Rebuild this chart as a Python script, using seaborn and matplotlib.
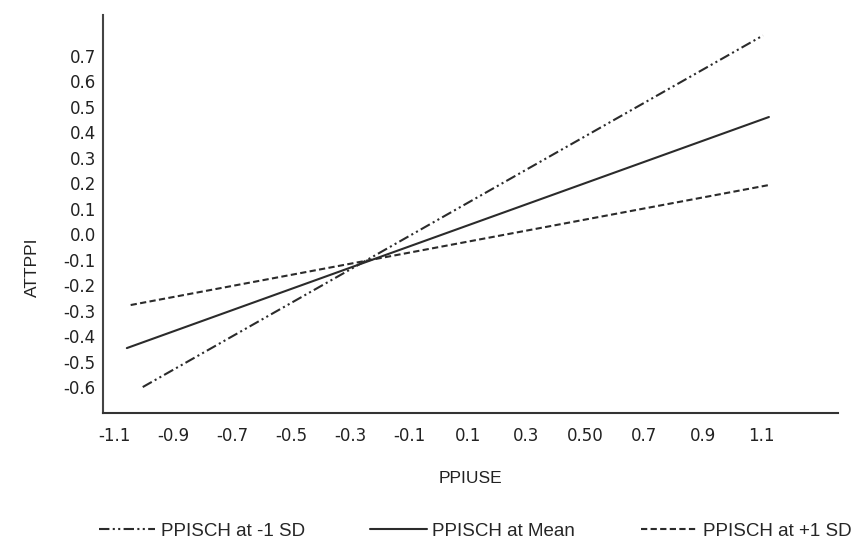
import numpy as np
import pandas as pd
import seaborn as sns
import matplotlib
matplotlib.use("Agg")
import matplotlib.pyplot as plt

# values (start / end of each simple slope line)
x_m1 = [-1.005, 1.104]
y_m1 = [-0.60, 0.78]
x_mean = [-1.059, 1.124]
y_mean = [-0.447, 0.460]
x_p1 = [-1.046, 1.124]
y_p1 = [-0.278, 0.193]

groups = ["PPISCH at -1 SD", "PPISCH at Mean", "PPISCH at +1 SD"]

xticks = [-1.1, -0.9, -0.7, -0.5, -0.3, -0.1, 0.1, 0.3, 0.5, 0.7, 0.9, 1.1]
xtick_labels = ["-1.1", "-0.9", "-0.7", "-0.5", "-0.3", "-0.1", "0.1", "0.3", "0.50", "0.7", "0.9", "1.1"]
yticks = [0.7, 0.6, 0.5, 0.4, 0.3, 0.2, 0.1, 0.0, -0.1, -0.2, -0.3, -0.4, -0.5, -0.6]
ytick_labels = ["0.7", "0.6", "0.5", "0.4", "0.3", "0.2", "0.1", "0.0",
                "-0.1", "-0.2", "-0.3", "-0.4", "-0.5", "-0.6"]

df = pd.DataFrame({
    "PPIUSE": x_m1 + x_mean + x_p1,
    "ATTPPI": y_m1 + y_mean + y_p1,
    "group": [groups[0]] * 2 + [groups[1]] * 2 + [groups[2]] * 2,
})

sns.set_style("white")
plt.rcParams["font.family"] = ["DejaVu Sans"]

fig = plt.figure(figsize=(8.56, 5.5), dpi=100)
ax = fig.add_axes([0.120, 0.249, 0.859, 0.724])

dash_map = {
    groups[0]: (5, 1.6, 1, 1.6, 1, 1.6),
    groups[1]: "",
    groups[2]: (3, 1.6),
}
sns.lineplot(data=df, x="PPIUSE", y="ATTPPI", style="group", style_order=groups,
             dashes=dash_map, color="#2b2b2b", linewidth=1.5, ax=ax, legend=True)

ax.set_xlim(-1.141, 1.359)
ax.set_ylim(-0.702, 0.861)
ax.set_xticks(xticks)
ax.set_xticklabels(xtick_labels)
ax.set_yticks(yticks)
ax.set_yticklabels(ytick_labels)
ax.tick_params(axis="both", length=0, labelsize=12, colors="#222222")
ax.tick_params(axis="x", pad=10)
ax.tick_params(axis="y", pad=5)

for side in ["top", "right"]:
    ax.spines[side].set_visible(False)
ax.spines["left"].set_color("#444444")
ax.spines["bottom"].set_color("#333333")
ax.spines["left"].set_linewidth(1.5)
ax.spines["bottom"].set_linewidth(1.5)

ax.set_xlabel("PPIUSE", fontsize=12.5, family="Liberation Sans", color="#222222", labelpad=19)
ax.set_ylabel("ATTPPI", fontsize=12.5, family="Liberation Sans", color="#222222")
ax.yaxis.set_label_coords(-0.086, 0.367)

handles, labels = ax.get_legend_handles_labels()
ax.get_legend().remove()
fig.legend(handles, labels, loc="center", bbox_to_anchor=(0.555, 0.0345), ncol=3,
           frameon=False, prop={"family": "Liberation Sans", "size": 13.5},
           handlelength=3.0, handletextpad=0.3, columnspacing=3.5)

fig.savefig("out.png", dpi=100)
